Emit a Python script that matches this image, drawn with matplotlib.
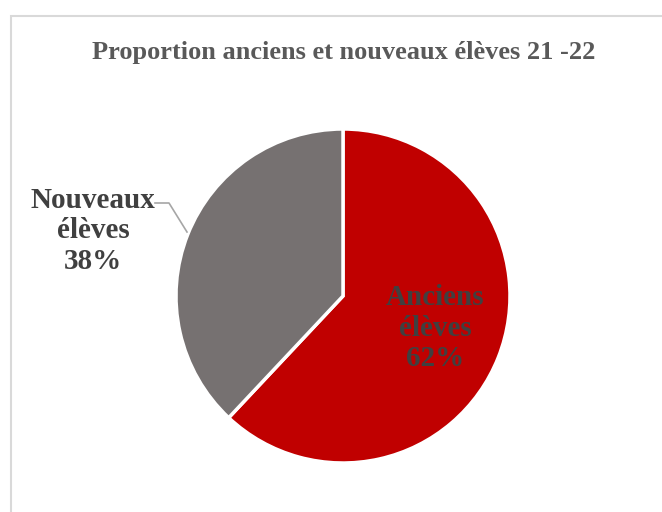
import matplotlib
matplotlib.use("Agg")
import matplotlib.pyplot as plt
from matplotlib.patches import Rectangle

categories = ["Anciens\nélèves", "Nouveaux\nélèves"]
values = [62, 38]
colors = ["#C00000", "#767171"]
title = "Proportion anciens et nouveaux élèves 21 -22"

W, H = 662, 512
fig = plt.figure(figsize=(W / 100, H / 100), dpi=100)
fig.patch.set_facecolor("white")

# chart border
fig.add_artist(Rectangle((11 / W, -0.05), 1.1, (H - 16) / H + 0.05,
                         transform=fig.transFigure, fill=False,
                         edgecolor="#D9D9D9", linewidth=1.5))

cx, cy, r = 343, 296, 167
ax = fig.add_axes([(cx - r) / W, (H - cy - r) / H, 2 * r / W, 2 * r / H])
wedges, _ = ax.pie(values, colors=colors, startangle=90, counterclock=False,
                   radius=1.0, wedgeprops=dict(edgecolor="white", linewidth=2.5))
ax.set_xlim(-1, 1)
ax.set_ylim(-1, 1)
ax.set_aspect("equal")
ax.axis("off")

serif = ["Liberation Serif", "DejaVu Serif"]

fig.text(344 / W, 1 - 53 / H, title, ha="center", va="center",
         fontsize=19, fontweight="bold", color="#595959", family=serif)

def px(x, y):
    return ((x - cx) / r, (cy - y) / r)

lx, ly = px(435, 328)
ax.text(lx, ly, f"{categories[0]}\n{values[0]}%", ha="center", va="center",
        fontsize=21, fontweight="bold", color="#404040", family=serif,
        linespacing=1.15, clip_on=False)
nx, ny = px(93, 231)
ax.text(nx, ny, f"{categories[1]}\n{values[1]}%", ha="center", va="center",
        fontsize=21, fontweight="bold", color="#404040", family=serif,
        linespacing=1.15, clip_on=False)

p1, p2, p3 = px(155, 203), px(169, 203), px(187, 232)
ax.plot([p1[0], p2[0], p3[0]], [p1[1], p2[1], p3[1]], color="#A6A6A6",
        linewidth=1.2, clip_on=False)

fig.savefig("out.png", dpi=100)
